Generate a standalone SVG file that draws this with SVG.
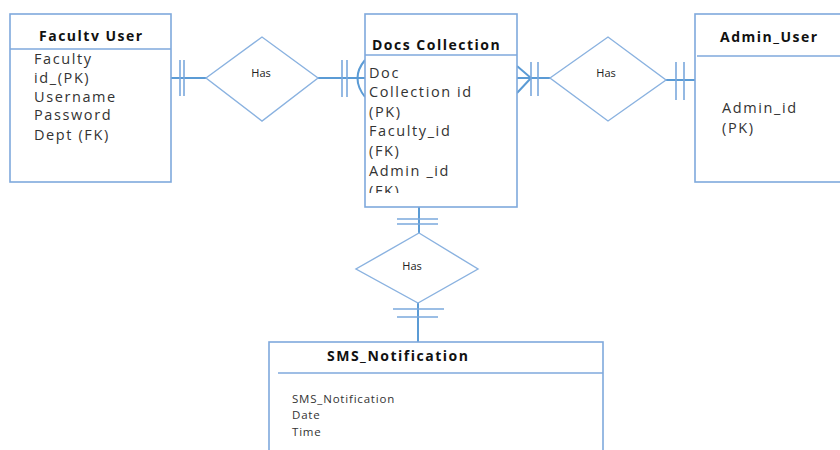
<svg xmlns="http://www.w3.org/2000/svg" width="840" height="450" viewBox="0 0 840 450">
  <style>
    .box { fill: #ffffff; stroke: #7fa9dc; stroke-width: 1.6; }
    .sep { stroke: #7fa9dc; stroke-width: 1.6; fill: none; }
    .rel { fill: #ffffff; stroke: #8ab2e0; stroke-width: 1.4; }
    .ln { stroke: #5b9bd5; stroke-width: 2; fill: none; }
    .tk { stroke: #7aa8dc; stroke-width: 1.6; fill: none; }
    .title { font-family: "Open Sans", "DejaVu Sans", sans-serif; font-weight: bold; font-size: 14px; fill: #111111; letter-spacing: 1.5px; }
    .attr { font-family: "Open Sans", "DejaVu Sans", sans-serif; font-size: 14.5px; fill: #333333; letter-spacing: 1.6px; }
    .small { font-family: "Open Sans", "DejaVu Sans", sans-serif; font-size: 11.5px; fill: #333333; letter-spacing: 0.8px; }
    .has { font-family: "Open Sans", "DejaVu Sans", sans-serif; font-size: 11px; fill: #222222; text-anchor: middle; }
  </style>
  <defs>
    <clipPath id="docsClip">
      <rect x="365" y="56" width="152" height="137"/>
    </clipPath>
  </defs>
  <rect width="840" height="450" fill="#ffffff"/>

  <!-- connectors -->
  <g id="connectors">
    <!-- Faculty User - Has - Docs Collection -->
    <line class="ln" x1="171" y1="78" x2="206" y2="78"/>
    <line class="tk" x1="180" y1="60" x2="180" y2="96"/>
    <line class="tk" x1="184" y1="60" x2="184" y2="96"/>
    <line class="ln" x1="318" y1="78" x2="365" y2="78"/>
    <line class="tk" x1="342" y1="60" x2="342" y2="97"/>
    <line class="tk" x1="347" y1="60" x2="347" y2="97"/>
    <path class="ln" d="M365 60 Q350 78 365 97"/>

    <!-- Docs Collection - Has - Admin_User -->
    <line class="ln" x1="517" y1="78" x2="550" y2="78"/>
    <path class="ln" d="M517 66 L531 78 L517 93"/>
    <line class="tk" x1="531" y1="62" x2="531" y2="96"/>
    <line class="tk" x1="538" y1="62" x2="538" y2="96"/>
    <line class="ln" x1="666" y1="80" x2="696" y2="80"/>
    <line class="tk" x1="676" y1="62" x2="676" y2="100"/>
    <line class="tk" x1="684" y1="62" x2="684" y2="100"/>

    <!-- Docs Collection - Has - SMS_Notification -->
    <line class="ln" x1="419" y1="207" x2="419" y2="233"/>
    <line class="tk" x1="397" y1="219" x2="438" y2="219"/>
    <line class="tk" x1="397" y1="224" x2="438" y2="224"/>
    <line class="ln" x1="418" y1="303" x2="418" y2="342"/>
    <line class="tk" x1="393" y1="309" x2="444" y2="309"/>
    <line class="tk" x1="397" y1="317" x2="438" y2="317"/>
  </g>

  <!-- Faculty User entity -->
  <g id="faculty-user">
    <rect class="box" x="10" y="14" width="161" height="168"/>
    <line class="sep" x1="10" y1="49" x2="171" y2="49"/>
    <text class="title" x="39" y="41">Facultv User</text>
    <text class="attr" x="34" y="64">Faculty</text>
    <text class="attr" x="34" y="83">id_(PK)</text>
    <text class="attr" x="34" y="102">Username</text>
    <text class="attr" x="34" y="120">Password</text>
    <text class="attr" x="34" y="140">Dept (FK)</text>
  </g>

  <!-- Has relationship (faculty / docs) -->
  <g id="has-faculty-docs">
    <polygon class="rel" points="206,78 262,37 318,78 262,121"/>
    <text class="has" x="261" y="77">Has</text>
  </g>

  <!-- Docs Collection entity -->
  <g id="docs-collection">
    <rect class="box" x="365" y="14" width="152" height="193"/>
    <line class="sep" x1="365" y1="55" x2="517" y2="55"/>
    <text class="title" x="372" y="50">Docs Collection</text>
    <g clip-path="url(#docsClip)">
      <text class="attr" x="369" y="78">Doc</text>
      <text class="attr" x="369" y="97">Collection id</text>
      <text class="attr" x="369" y="117">(PK)</text>
      <text class="attr" x="369" y="136">Faculty_id</text>
      <text class="attr" x="369" y="156">(FK)</text>
      <text class="attr" x="369" y="176">Admin _id</text>
      <text class="attr" x="369" y="196">(FK)</text>
    </g>
  </g>

  <!-- Has relationship (docs / admin) -->
  <g id="has-docs-admin">
    <polygon class="rel" points="550,78 608,37 666,80 608,121"/>
    <text class="has" x="606" y="77">Has</text>
  </g>

  <!-- Admin_User entity -->
  <g id="admin-user">
    <rect class="box" x="695" y="14" width="160" height="168"/>
    <line class="sep" x1="697" y1="56" x2="840" y2="56"/>
    <text class="title" x="720" y="42">Admin_User</text>
    <text class="attr" x="722" y="113">Admin_id</text>
    <text class="attr" x="722" y="133">(PK)</text>
  </g>

  <!-- Has relationship (docs / sms) -->
  <g id="has-docs-sms">
    <polygon class="rel" points="419,233 478,269 418,303 356,269"/>
    <text class="has" x="412" y="270">Has</text>
  </g>

  <!-- SMS_Notification entity -->
  <g id="sms-notification">
    <rect class="box" x="269" y="342" width="334" height="120"/>
    <line class="sep" x1="278" y1="373" x2="603" y2="373"/>
    <text class="title" x="327" y="361">SMS_Notification</text>
    <text class="small" x="292" y="403">SMS_Notification</text>
    <text class="small" x="292" y="419">Date</text>
    <text class="small" x="292" y="436">Time</text>
  </g>
</svg>
